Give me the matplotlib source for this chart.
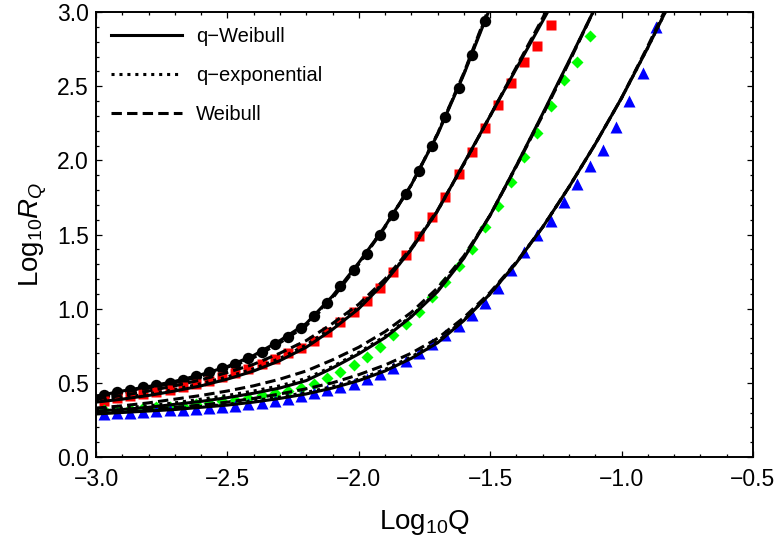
import matplotlib.pyplot as plt
from matplotlib.lines import Line2D
from matplotlib.ticker import MultipleLocator

plt.rcParams['font.family'] = ['Liberation Sans', 'DejaVu Sans']
plt.rcParams['mathtext.fontset'] = 'custom'
plt.rcParams['mathtext.rm'] = 'Liberation Sans'
plt.rcParams['mathtext.it'] = 'Liberation Sans:italic'

# data points (log10 Q, log10 R_Q)
q_pts = [-2.97, -2.92, -2.87, -2.82, -2.77, -2.72, -2.67, -2.62, -2.57, -2.52,
         -2.47, -2.42, -2.37, -2.32, -2.27, -2.22, -2.17, -2.12, -2.07, -2.02,
         -1.97, -1.92, -1.87, -1.82, -1.77, -1.72, -1.67, -1.62, -1.57, -1.52,
         -1.47, -1.42, -1.37, -1.32, -1.27, -1.22, -1.17, -1.12, -1.07, -1.02,
         -0.97, -0.92, -0.87]

r_black = [0.42, 0.44, 0.455, 0.47, 0.485, 0.50, 0.52, 0.545, 0.57, 0.60,
           0.63, 0.67, 0.71, 0.76, 0.81, 0.87, 0.95, 1.04, 1.15, 1.26,
           1.37, 1.50, 1.63, 1.77, 1.93, 2.10, 2.29, 2.49, 2.71, 2.94]
r_red = [0.38, 0.395, 0.41, 0.425, 0.44, 0.455, 0.475, 0.495, 0.515, 0.54,
         0.565, 0.595, 0.625, 0.66, 0.70, 0.735, 0.785, 0.845, 0.91, 0.975,
         1.055, 1.14, 1.245, 1.365, 1.49, 1.62, 1.75, 1.905, 2.055, 2.215,
         2.37, 2.52, 2.66, 2.77, 2.91]
r_green = [0.315, 0.32, 0.325, 0.33, 0.335, 0.34, 0.345, 0.355, 0.365, 0.375,
           0.385, 0.40, 0.415, 0.43, 0.445, 0.465, 0.495, 0.535, 0.575, 0.62,
           0.675, 0.74, 0.82, 0.90, 0.98, 1.08, 1.18, 1.285, 1.405, 1.55,
           1.69, 1.855, 2.02, 2.185, 2.365, 2.54, 2.665, 2.835]
r_blue = [0.29, 0.295, 0.30, 0.305, 0.31, 0.315, 0.32, 0.325, 0.33, 0.34,
          0.345, 0.355, 0.365, 0.375, 0.39, 0.41, 0.43, 0.45, 0.47, 0.495,
          0.525, 0.56, 0.60, 0.645, 0.70, 0.76, 0.82, 0.885, 0.955, 1.035,
          1.14, 1.26, 1.385, 1.50, 1.59, 1.72, 1.84, 1.965, 2.07, 2.225,
          2.40, 2.59, 2.90]

# fitted curves
q_fit = [-3.0, -2.9, -2.8, -2.7, -2.6, -2.5, -2.4, -2.3, -2.2, -2.1, -2.0, -1.9,
         -1.8, -1.7, -1.6, -1.5, -1.4, -1.3, -1.2, -1.1, -1.0, -0.9, -0.8]

black_qw = [0.41, 0.445, 0.475, 0.51, 0.555, 0.61, 0.685, 0.785, 0.90, 1.085, 1.31, 1.555, 1.835, 2.175, 2.58, 3.03]
black_qe = [0.41, 0.44, 0.47, 0.505, 0.55, 0.605, 0.68, 0.78, 0.895, 1.08, 1.305, 1.555, 1.835, 2.18, 2.585, 3.04]
black_w = [0.40, 0.435, 0.465, 0.50, 0.545, 0.60, 0.67, 0.77, 0.885, 1.07, 1.30, 1.55, 1.835, 2.18, 2.59, 3.05]

red_qw = [0.37, 0.39, 0.415, 0.445, 0.48, 0.525, 0.58, 0.65, 0.74, 0.86, 1.00, 1.18, 1.40, 1.66, 1.98, 2.30, 2.62, 2.94, 3.26]
red_qe = [0.375, 0.40, 0.425, 0.455, 0.495, 0.54, 0.595, 0.665, 0.755, 0.875, 1.01, 1.185, 1.40, 1.66, 1.975, 2.30, 2.625, 2.95, 3.28]
red_w = [0.39, 0.415, 0.445, 0.48, 0.52, 0.57, 0.625, 0.70, 0.785, 0.90, 1.03, 1.20, 1.41, 1.665, 1.975, 2.30, 2.63, 2.96, 3.30]

green_qw = [0.31, 0.32, 0.335, 0.355, 0.375, 0.40, 0.43, 0.465, 0.515, 0.60, 0.695, 0.805, 0.945, 1.115, 1.34, 1.63, 1.965, 2.315, 2.67, 3.03]
green_qe = [0.32, 0.33, 0.345, 0.365, 0.39, 0.415, 0.445, 0.48, 0.53, 0.61, 0.705, 0.815, 0.95, 1.12, 1.345, 1.63, 1.965, 2.31, 2.665, 3.03]
green_w = [0.33, 0.345, 0.365, 0.39, 0.415, 0.445, 0.48, 0.525, 0.58, 0.655, 0.74, 0.845, 0.975, 1.14, 1.355, 1.63, 1.96, 2.305, 2.66, 3.03]

blue_qw = [0.29, 0.30, 0.31, 0.32, 0.335, 0.35, 0.37, 0.395, 0.425, 0.465, 0.515, 0.58, 0.665, 0.77, 0.92, 1.10, 1.31, 1.55, 1.82, 2.11, 2.42, 2.76, 3.12]
blue_qe = [0.295, 0.305, 0.315, 0.325, 0.34, 0.355, 0.38, 0.405, 0.435, 0.475, 0.525, 0.59, 0.675, 0.78, 0.925, 1.10, 1.31, 1.55, 1.82, 2.11, 2.42, 2.76, 3.12]
blue_w = [0.30, 0.31, 0.32, 0.335, 0.35, 0.37, 0.395, 0.425, 0.46, 0.50, 0.555, 0.62, 0.70, 0.80, 0.94, 1.11, 1.315, 1.55, 1.82, 2.11, 2.42, 2.77, 3.14]

labels = ["q\u2212Weibull", "q\u2212exponential", "Weibull"]
dash_ls = (0, (3.4, 1.7))
dot_ls = (0, (1.0, 1.6))

fig = plt.figure(figsize=(7.82, 5.46), dpi=100)
ax = fig.add_axes([0.1228, 0.163, 0.840, 0.815])

ax.plot(q_pts[:len(r_black)], r_black, "o", color="black", ms=8.2, mec="none", zorder=2)
ax.plot(q_pts[:len(r_red)], r_red, "s", color="#ff0000", ms=6.5, mec="none", zorder=2)
ax.plot(q_pts[:len(r_green)], r_green, "D", color="#00ff00", ms=6.0, mec="none", zorder=2)
ax.plot(q_pts[:len(r_blue)], r_blue, "^", color="#0000ff", ms=8.0, mec="none", zorder=2)

for qw, qe, w in [(black_qw, black_qe, black_w), (red_qw, red_qe, red_w),
                  (green_qw, green_qe, green_w), (blue_qw, blue_qe, blue_w)]:
    ax.plot(q_fit[:len(qw)], qw, color="black", lw=2.2, zorder=3)
    ax.plot(q_fit[:len(qe)], qe, color="black", lw=2.2, ls=dot_ls, zorder=3)
    ax.plot(q_fit[:len(w)], w, color="black", lw=2.2, ls=dash_ls, zorder=3)

ax.set_xlim(-3.0, -0.5)
ax.set_ylim(0.0, 3.0)
ax.xaxis.set_major_locator(MultipleLocator(0.5))
ax.xaxis.set_minor_locator(MultipleLocator(0.1))
ax.yaxis.set_major_locator(MultipleLocator(0.5))
ax.yaxis.set_minor_locator(MultipleLocator(0.1))
ax.tick_params(which="both", direction="in", top=True, right=True, width=0.9, labelsize=16.5)
ax.tick_params(which="major", length=4.5)
ax.tick_params(which="minor", length=2.5)
ax.tick_params(axis="x", pad=8)
ax.tick_params(axis="y", pad=5)
for s in ax.spines.values():
    s.set_linewidth(1.4)

ax.set_xlabel(r"Log$_{10}$Q", fontsize=20, labelpad=12)
ax.set_ylabel(r"Log$_{10}R_Q$", fontsize=20, labelpad=6)

handles = [Line2D([], [], color="black", lw=2.2),
           Line2D([], [], color="black", lw=2.2, ls=dot_ls),
           Line2D([], [], color="black", lw=2.2, ls=dash_ls)]
ax.legend(handles, labels, loc="upper left", frameon=False, fontsize=14.5,
          handlelength=3.5, handletextpad=0.7, labelspacing=1.0,
          borderaxespad=0.35, bbox_to_anchor=(0.0, 1.0))

fig.savefig("out.png", dpi=100)
